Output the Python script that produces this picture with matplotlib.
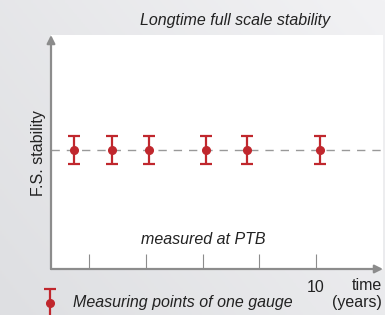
import numpy as np
import matplotlib.pyplot as plt
from matplotlib.colors import LinearSegmentedColormap

# measuring points of one gauge (years, relative F.S. deviation)
years = [1.45, 2.8, 4.1, 6.1, 7.55, 10.15]
stability = [0.0, 0.0, 0.0, 0.0, 0.0, 0.0]
uncertainty = [0.12, 0.12, 0.12, 0.12, 0.12, 0.12]
tick_years = [2, 4, 6, 8, 10]
tick_labels = ['', '', '', '', '10']

RED = '#c0272d'
GRAY = '#8c8c8c'
FS = 11.5

plt.rcParams['font.family'] = ['Liberation Sans', 'DejaVu Sans']

fig = plt.figure(figsize=(3.85, 3.15), dpi=100)

# light gray gradient background
bg = fig.add_axes([0, 0, 1, 1], zorder=-10)
gx, gy = np.meshgrid(np.linspace(0, 1, 200), np.linspace(0, 1, 200))
grad = 0.6 * gx + 0.4 * (1 - gy)
cmap = LinearSegmentedColormap.from_list('bg', ['#dedfe2', '#f2f2f4'])
bg.imshow(grad, cmap=cmap, aspect='auto', extent=[0, 1, 0, 1], origin='upper')
bg.axis('off')

W, H = 385, 315
ax = fig.add_axes([51 / W, (H - 269) / H, (383 - 51) / W, (269 - 35) / H])
ax.set_facecolor('white')
ax.set_xlim(0.65, 12.36)
ax.set_ylim(-1.02, 0.98)
for s in ax.spines.values():
    s.set_visible(False)

# axes with arrows
ax.annotate('', xy=(1.0, 0), xytext=(0, 0), xycoords='axes fraction',
            arrowprops=dict(arrowstyle='-|>', color=GRAY, lw=1.6,
                            mutation_scale=12, shrinkA=0, shrinkB=0))
ax.annotate('', xy=(0, 1.0), xytext=(0, 0), xycoords='axes fraction',
            arrowprops=dict(arrowstyle='-|>', color=GRAY, lw=1.6,
                            mutation_scale=12, shrinkA=0, shrinkB=0))

ax.set_xticks(tick_years, tick_labels)
ax.set_yticks([])
ax.tick_params(axis='x', direction='in', length=11, width=0.8, color=GRAY,
               pad=8, labelsize=FS, labelcolor='#222222')

ax.axhline(0, color='#999999', lw=1.0, dashes=(6, 5), zorder=1)
ax.errorbar(years, stability, yerr=uncertainty, fmt='o', color=RED,
            ms=5.5, elinewidth=1.6, capsize=4, capthick=1.6, zorder=3)

# legend-like mark below the axis
ax.errorbar([0.62], [-1.31], yerr=[[0.3], [0.12]], fmt='o', color=RED,
            ms=5.5, elinewidth=1.6, capsize=4, capthick=1.6, clip_on=False)

fig.text(235 / W, 1 - 21 / H, 'Longtime full scale stability', ha='center',
         va='center', style='italic', fontsize=FS, color='#222222')
fig.text(203 / W, 1 - 240 / H, 'measured at PTB', ha='center', va='center',
         style='italic', fontsize=FS, color='#222222')
fig.text(38 / W, 1 - 153 / H, 'F.S. stability', ha='center', va='center',
         rotation=90, fontsize=FS, color='#222222')
fig.text(73 / W, 1 - 303 / H, 'Measuring points of one gauge', ha='left',
         va='center', style='italic', fontsize=FS, color='#222222')
fig.text(382 / W, 1 - 285 / H, 'time', ha='right', va='center',
         fontsize=FS, color='#222222')
fig.text(382 / W, 1 - 303 / H, '(years)', ha='right', va='center',
         fontsize=FS, color='#222222')

fig.savefig('out.png', dpi=100)
